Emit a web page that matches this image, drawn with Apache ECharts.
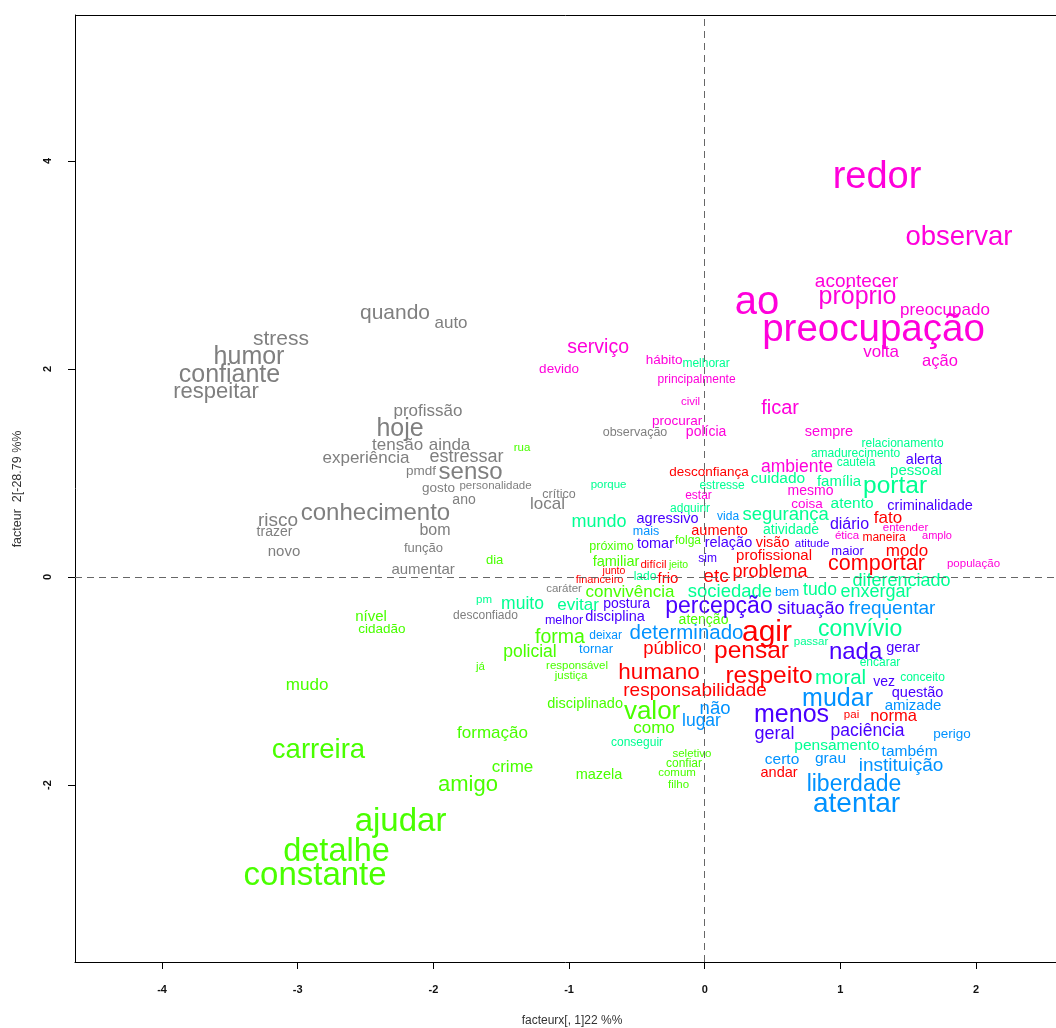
<!DOCTYPE html>
<html>
<head>
<meta charset="utf-8">
<script src="https://cdn.jsdelivr.net/npm/echarts@6/dist/echarts.min.js"></script>
<style>
  html, body { margin: 0; padding: 0; background: #ffffff; }
  #chart { width: 1056px; height: 1028px; }
</style>
</head>
<body>
<div id="chart"></div>
<script>
// Plan factoriel (facteur 1 x facteur 2) : chaque mot est placé à ses
// coordonnées factorielles, coloré selon sa classe, taille selon son poids.
// Entrées : [mot, facteur 1, facteur 2, poids]

const classeGris = [
  ['quando', -2.283, 2.561, 21], ['auto', -1.870, 2.452, 17], ['stress', -3.123, 2.308, 21],
  ['humor', -3.359, 2.135, 25], ['confiante', -3.503, 1.962, 25], ['respeitar', -3.602, 1.798, 22],
  ['profissão', -2.040, 1.606, 17], ['hoje', -2.246, 1.442, 25], ['tensão', -2.264, 1.279, 17],
  ['ainda', -1.881, 1.279, 17], ['experiência', -2.497, 1.154, 17], ['estressar', -1.756, 1.173, 18],
  ['pmdf', -2.091, 1.029, 13.5], ['senso', -1.726, 1.029, 24], ['gosto', -1.962, 0.865, 13.5],
  ['personalidade', -1.542, 0.885, 11.5], ['ano', -1.774, 0.750, 14], ['crítico', -1.074, 0.808, 12.5],
  ['local', -1.159, 0.712, 17], ['conhecimento', -2.427, 0.635, 24], ['risco', -3.145, 0.558, 19],
  ['trazer', -3.171, 0.442, 14], ['bom', -1.988, 0.462, 16], ['novo', -3.101, 0.260, 15],
  ['função', -2.073, 0.288, 13], ['aumentar', -2.076, 0.087, 15], ['observação', -0.514, 1.404, 12.5],
  ['caráter', -1.037, -0.106, 11.5], ['desconfiado', -1.616, -0.356, 12]
];

const classeVert = [
  ['nível', -2.460, -0.365, 15], ['cidadão', -2.379, -0.490, 13.5], ['mudo', -2.931, -1.029, 17],
  ['carreira', -2.847, -1.644, 27.5], ['formação', -1.564, -1.490, 17], ['crime', -1.417, -1.817, 17],
  ['amigo', -1.745, -1.981, 22], ['ajudar', -2.242, -2.327, 33], ['detalhe', -2.714, -2.615, 32.5],
  ['constante', -2.872, -2.846, 33], ['já', -1.653, -0.856, 11.5], ['policial', -1.288, -0.702, 17.5],
  ['forma', -1.067, -0.567, 19.5], ['responsável', -0.941, -0.846, 11.5], ['justiça', -0.985, -0.942, 11.5],
  ['disciplinado', -0.882, -1.212, 14.5], ['valor', -0.388, -1.269, 26], ['como', -0.374, -1.442, 17],
  ['seletivo', -0.094, -1.692, 11.5], ['confiar', -0.153, -1.779, 12], ['comum', -0.204, -1.875, 11.5],
  ['filho', -0.193, -1.990, 11.5], ['mazela', -0.779, -1.894, 14.5], ['convivência', -0.551, -0.135, 17],
  ['dia', -1.549, 0.173, 13], ['rua', -1.347, 1.250, 11.5], ['próximo', -0.687, 0.308, 12.5],
  ['familiar', -0.654, 0.163, 14.5], ['folga', -0.123, 0.365, 12], ['jeito', -0.193, 0.125, 10.5],
  ['atenção', -0.009, -0.404, 14]
];

const classeMenthe = [
  ['conseguir', -0.499, -1.577, 12], ['muito', -1.343, -0.240, 17.5], ['pm', -1.627, -0.212, 11.5],
  ['evitar', -0.934, -0.260, 17], ['porque', -0.709, 0.894, 11.5], ['mundo', -0.779, 0.548, 18],
  ['lado', -0.440, 0.010, 12], ['adquirir', -0.108, 0.673, 12], ['melhorar', 0.010, 2.058, 12],
  ['estresse', 0.128, 0.894, 12], ['pensamento', 0.975, -1.606, 15.5], ['sociedade', 0.186, -0.125, 18.5],
  ['segurança', 0.596, 0.615, 18.5], ['atividade', 0.636, 0.462, 14], ['atento', 1.086, 0.721, 15.5],
  ['família', 0.990, 0.933, 15], ['portar', 1.403, 0.894, 24.5], ['pessoal', 1.557, 1.038, 15],
  ['cautela', 1.115, 1.106, 12], ['amadurecimento', 1.112, 1.202, 12], ['relacionamento', 1.458, 1.298, 12],
  ['cuidado', 0.540, 0.962, 15.5], ['tudo', 0.850, -0.106, 17.5], ['enxergar', 1.263, -0.125, 18],
  ['diferenciado', 1.451, -0.019, 18], ['convívio', 1.145, -0.481, 23], ['moral', 1.001, -0.952, 20.5],
  ['encarar', 1.292, -0.817, 12], ['conceito', 1.605, -0.952, 12], ['passar', 0.784, -0.615, 11.5]
];

const classeBleu = [
  ['atentar', 1.119, -2.163, 28], ['liberdade', 1.100, -1.971, 23], ['instituição', 1.447, -1.798, 19],
  ['também', 1.510, -1.663, 15.5], ['grau', 0.927, -1.731, 15.5], ['certo', 0.570, -1.740, 15.5],
  ['perigo', 1.823, -1.500, 13.5], ['amizade', 1.535, -1.221, 15], ['mudar', 0.979, -1.154, 25],
  ['não', 0.076, -1.250, 18.5], ['lugar', -0.024, -1.365, 17.5], ['determinado', -0.134, -0.519, 20.5],
  ['deixar', -0.731, -0.548, 12], ['tornar', -0.801, -0.683, 13], ['mais', -0.433, 0.452, 12.5],
  ['vida', 0.172, 0.587, 12], ['bem', 0.607, -0.135, 12.5], ['frequentar', 1.381, -0.288, 19]
];

const classeViolet = [
  ['percepção', 0.105, -0.260, 23], ['situação', 0.784, -0.288, 18], ['postura', -0.576, -0.250, 14],
  ['disciplina', -0.661, -0.375, 14.5], ['melhor', -1.037, -0.404, 12.5], ['agressivo', -0.274, 0.567, 14.5],
  ['tomar', -0.363, 0.327, 14.5], ['sim', 0.021, 0.183, 12], ['relação', 0.175, 0.337, 14.5],
  ['atitude', 0.791, 0.327, 11.5], ['maior', 1.053, 0.260, 13], ['diário', 1.067, 0.519, 16],
  ['criminalidade', 1.661, 0.692, 14.5], ['alerta', 1.616, 1.135, 14.5], ['nada', 1.112, -0.702, 24],
  ['gerar', 1.462, -0.673, 14.5], ['vez', 1.322, -1.000, 14], ['questão', 1.569, -1.106, 14.5],
  ['menos', 0.640, -1.308, 25], ['paciência', 1.200, -1.462, 17.5], ['geral', 0.514, -1.490, 18]
];

const classeRouge = [
  ['agir', 0.459, -0.510, 30], ['pensar', 0.345, -0.692, 24.5], ['público', -0.237, -0.673, 18.5],
  ['humano', -0.337, -0.904, 22.5], ['respeito', 0.474, -0.933, 24.5], ['responsabilidade', -0.071, -1.077, 19],
  ['pai', 1.082, -1.317, 11.5], ['norma', 1.392, -1.327, 16.5], ['andar', 0.548, -1.875, 14.5],
  ['problema', 0.481, 0.067, 18], ['profissional', 0.511, 0.221, 15], ['visão', 0.500, 0.337, 14.5],
  ['aumento', 0.109, 0.452, 14.5], ['etc', 0.083, 0.019, 19], ['frio', -0.271, 0.000, 15],
  ['difícil', -0.377, 0.125, 11.5], ['junto', -0.669, 0.067, 10.5], ['financeiro', -0.775, -0.019, 11],
  ['desconfiança', 0.032, 1.019, 13.5], ['fato', 1.351, 0.577, 17], ['maneira', 1.322, 0.394, 12],
  ['modo', 1.491, 0.260, 17], ['comportar', 1.266, 0.144, 21.5]
];

const classeMagenta = [
  ['redor', 1.270, 3.875, 38], ['observar', 1.874, 3.288, 27.5], ['acontecer', 1.119, 2.856, 19],
  ['próprio', 1.126, 2.712, 25], ['ao', 0.385, 2.673, 40], ['preocupado', 1.771, 2.577, 17],
  ['preocupação', 1.244, 2.404, 38.5], ['volta', 1.300, 2.173, 17], ['ação', 1.734, 2.087, 16.5],
  ['serviço', -0.786, 2.221, 19.5], ['devido', -1.074, 2.010, 13.5], ['hábito', -0.300, 2.096, 13.5],
  ['principalmente', -0.060, 1.913, 12], ['civil', -0.105, 1.692, 11.5], ['procurar', -0.204, 1.510, 13.5],
  ['polícia', 0.010, 1.404, 14], ['estar', -0.046, 0.798, 12], ['ficar', 0.555, 1.644, 20],
  ['sempre', 0.916, 1.404, 14.5], ['ambiente', 0.680, 1.077, 17.5], ['mesmo', 0.780, 0.837, 14],
  ['coisa', 0.754, 0.712, 13.5], ['ética', 1.049, 0.404, 11.5], ['entender', 1.480, 0.481, 11.5],
  ['amplo', 1.712, 0.404, 11], ['população', 1.981, 0.135, 11.5]
];

const ticksX = [-4, -3, -2, -1, 0, 1, 2];
const ticksY = [-2, 0, 2, 4];

const titreX = 'facteurx[, 1]22 %%';
const titreY = 'facteur  2[-28.79 %%';

// Classes dans l'ordre de tracé, avec leur couleur
const classes = [
  { mots: classeGris, couleur: '#7f7f7f' },
  { mots: classeVert, couleur: '#49FF00' },
  { mots: classeMenthe, couleur: '#00FF92' },
  { mots: classeBleu, couleur: '#0092FF' },
  { mots: classeViolet, couleur: '#4900FF' },
  { mots: classeRouge, couleur: '#FF0000' },
  { mots: classeMagenta, couleur: '#FF00DB' }
];

const POLICE = '"Liberation Sans", Arial, Helvetica, sans-serif';

function serieMots(cl, idx) {
  const s = {
    type: 'custom',
    coordinateSystem: 'cartesian2d',
    silent: true,
    data: cl.mots.map(m => [m[1], m[2], m[3]]),
    renderItem: function (params, api) {
      const p = api.coord([api.value(0), api.value(1)]);
      const mot = cl.mots[params.dataIndex];
      const taille = api.value(2);
      return {
        type: 'text',
        x: p[0],
        // centrage sur le corps des lettres (hampes montantes comprises)
        y: p[1] + taille * 0.1,
        style: {
          text: mot[0],
          fill: cl.couleur,
          font: taille + 'px ' + POLICE,
          align: 'center',
          verticalAlign: 'middle'
        }
      };
    }
  };
  if (idx === 0) {
    // axes de référence pointillés en 0
    s.markLine = {
      silent: true,
      symbol: ['none', 'none'],
      label: { show: false },
      lineStyle: { color: '#666666', width: 1, type: [7, 5] },
      data: [{ xAxis: 0 }, { yAxis: 0 }]
    };
  }
  return s;
}

const chart = echarts.init(document.getElementById('chart'), null, { renderer: 'canvas' });

chart.setOption({
  backgroundColor: '#ffffff',
  animation: false,
  grid: { left: 75, top: 15, width: 981, height: 947, show: false },
  xAxis: {
    type: 'value',
    min: -4.6416, max: 2.5892,
    axisLine: { show: true, onZero: false, lineStyle: { color: '#000000', width: 1 } },
    axisTick: { show: true, length: 7, customValues: ticksX, lineStyle: { color: '#000000' } },
    axisLabel: {
      customValues: ticksX, margin: 22, color: '#111111',
      fontSize: 11, fontWeight: 'bold', fontFamily: POLICE
    },
    splitLine: { show: false }
  },
  yAxis: {
    type: 'value',
    min: -3.702, max: 5.404,
    axisLine: { show: true, onZero: false, lineStyle: { color: '#000000', width: 1 } },
    axisTick: { show: true, length: 7, customValues: ticksY, lineStyle: { color: '#000000' } },
    axisLabel: {
      customValues: ticksY, margin: 22, rotate: 90, color: '#111111',
      fontSize: 11, fontWeight: 'bold', fontFamily: POLICE
    },
    splitLine: { show: false }
  },
  graphic: [
    {
      // bord supérieur du cadre
      type: 'line', silent: true,
      shape: { x1: 75, y1: 15.5, x2: 1056, y2: 15.5 },
      style: { stroke: '#000000', lineWidth: 1 }
    },
    {
      type: 'text', x: 572, y: 1021, silent: true,
      style: { text: titreX, fill: '#333333', font: '12px ' + POLICE, align: 'center', verticalAlign: 'middle' }
    },
    {
      type: 'text', x: 18, y: 489, rotation: Math.PI / 2, silent: true,
      style: { text: titreY, fill: '#333333', font: '12.5px ' + POLICE, align: 'center', verticalAlign: 'middle' }
    }
  ],
  series: classes.map(serieMots)
});
</script>
</body>
</html>
